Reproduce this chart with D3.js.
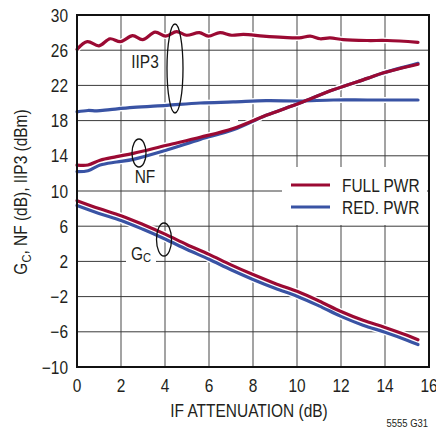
<!DOCTYPE html>
<html><head><meta charset="utf-8">
<script src="https://cdn.jsdelivr.net/npm/d3@7"></script>
<style>
html,body{margin:0;padding:0;background:#fff;}
svg text{font-family:"Liberation Sans",Arial,sans-serif;fill:#231f20;}
</style></head>
<body><svg id="c" width="436" height="434"></svg>
<script>
// ---- data ----
const xTicks = [0,2,4,6,8,10,12,14,16];
const yTicks = [-10,-6,-2,2,6,10,14,18,22,26,30];

const iip3X    = [0,0.47,1.0,1.5,1.98,2.53,2.98,3.55,4.03,4.53,4.98,5.56,5.97,6.5,7.03,7.56,8.47,9.38,10.1,10.6,11.05,11.5,12.1,13.2,14.1,15.5];
const iip3Full = [26.1,26.97,26.5,27.3,26.97,27.65,27.2,28.05,27.6,28.1,27.7,28.0,27.6,28.0,27.7,27.8,27.6,27.45,27.4,27.6,27.3,27.4,27.2,27.1,27.1,26.9];
const iip3RedX = [0,0.5,0.9,1.5,2.56,4.08,5.6,7.1,8.6,10.1,11.65,13.2,15.5];
const iip3Red  = [19.0,19.15,19.1,19.25,19.5,19.74,20.0,20.12,20.26,20.23,20.34,20.34,20.34];

const nfX    = [0,0.5,1.05,1.8,2.56,4.08,5.6,7.1,8.6,10.1,11.65,13.2,13.9,15.5];
const nfFull = [12.95,12.95,13.5,13.9,14.28,15.2,16.1,17.1,18.6,19.97,21.5,22.8,23.4,24.4];
const nfRed  = [12.2,12.3,12.95,13.3,13.6,14.66,15.87,16.95,18.6,19.97,21.5,22.8,23.4,24.5];

const gcX    = [0,1,2,3,4,5,6,7,8,9,10,11,12,13,14,15,15.5];
const gcFull = [8.9,8.0,7.2,6.2,5.1,3.9,2.8,1.6,0.5,-0.5,-1.4,-2.5,-3.7,-4.7,-5.5,-6.4,-6.9];
const gcRed  = [8.35,7.45,6.65,5.65,4.55,3.35,2.25,1.05,-0.05,-1.05,-1.95,-3.05,-4.25,-5.25,-6.05,-6.95,-7.45];

const legendLabels = ["FULL PWR","RED. PWR"];
const colors = {full:"#9b0a33", red:"#3953a4"};

// ---- layout ----
const L=77, T=15, W=352, H=352;
const svg = d3.select("#c");
const x = d3.scaleLinear().domain([0,16]).range([L,L+W]);
const y = d3.scaleLinear().domain([-10,30]).range([T+H,T]);
const fs = 18, SX = 0.86;

function txt(parent, px, py, anchor, size, rot){
  const g = parent.append("g").attr("transform",`translate(${px},${py})${rot?` rotate(${rot})`:""} scale(${SX},1)`);
  return g.append("text").attr("x",0).attr("y",0).attr("text-anchor",anchor).attr("font-size",size);
}

// grid
svg.append("g").selectAll("line").data(xTicks.slice(1,-1)).join("line")
  .attr("x1",d=>x(d)).attr("x2",d=>x(d)).attr("y1",T).attr("y2",T+H)
  .attr("stroke","#8c8c8c").attr("stroke-width",1.6);
svg.append("g").selectAll("line").data(yTicks.slice(1,-1)).join("line")
  .attr("x1",d=> d===14 ? 159 : L).attr("x2",L+W).attr("y1",d=>y(d)).attr("y2",d=>y(d))
  .attr("stroke","#3a3a3a").attr("stroke-width",1);
// small gap in the 18 line
svg.append("rect").attr("x",230).attr("y",y(18)-1.5).attr("width",8).attr("height",3).attr("fill","#fff");

// legend box (white)
svg.append("rect").attr("x",282).attr("y",167).attr("width",145).attr("height",58).attr("fill","#fff");
// Gc label background
svg.append("rect").attr("x",126).attr("y",244).attr("width",30).attr("height",20).attr("fill","#fff");

// curves
const line = d3.line().x(d=>x(d[0])).y(d=>y(d[1])).curve(d3.curveCatmullRom.alpha(0.5));
const series = [
  {xs:iip3RedX, ys:iip3Red, c:colors.red},
  {xs:iip3X, ys:iip3Full, c:colors.full},
  {xs:nfX, ys:nfRed, c:colors.red},
  {xs:nfX, ys:nfFull, c:colors.full},
  {xs:gcX, ys:gcRed, c:colors.red},
  {xs:gcX, ys:gcFull, c:colors.full}
];
series.forEach(s=>{
  const pts = s.xs.map((v,i)=>[v,s.ys[i]]);
  svg.append("path").attr("d",line(pts)).attr("fill","none").attr("stroke","#fff").attr("stroke-width",6).attr("stroke-linejoin","round");
});
series.forEach(s=>{
  const pts = s.xs.map((v,i)=>[v,s.ys[i]]);
  svg.append("path").attr("d",line(pts)).attr("fill","none").attr("stroke",s.c).attr("stroke-width",3.2).attr("stroke-linejoin","round").attr("stroke-linecap","round");
});

// frame
svg.append("rect").attr("x",L).attr("y",T).attr("width",W).attr("height",H)
  .attr("fill","none").attr("stroke","#111").attr("stroke-width",2);

// tick labels
const fmt = d=> d<0 ? "\u2212"+Math.abs(d) : String(d);
yTicks.forEach(d=>txt(svg, L-9, y(d)+6.5, "end", fs).text(fmt(d)));
xTicks.forEach(d=>txt(svg, x(d), T+H+25, "middle", fs).text(fmt(d)));

// axis titles
txt(svg, 249, 417, "middle", fs).text("IF ATTENUATION (dB)");
const yl = txt(svg, 27, 192, "middle", fs, -90);
yl.append("tspan").text("G");
yl.append("tspan").attr("font-size",13).attr("dy",4).text("C");
yl.append("tspan").attr("dy",-4).text(", NF (dB), IIP3 (dBm)");

// annotations
txt(svg, 145, 68, "middle", fs).text("IIP3");
txt(svg, 145, 183, "middle", fs).text("NF");
const gl = txt(svg, 131, 260, "start", fs);
gl.append("tspan").text("G");
gl.append("tspan").attr("font-size",13).attr("dy",2).text("C");

const ell = [[175,68.5,8,44.5],[139,153,7,14],[164,239.5,7.5,16.5]];
svg.append("g").selectAll("ellipse").data(ell).join("ellipse")
  .attr("cx",d=>d[0]).attr("cy",d=>d[1]).attr("rx",d=>d[2]).attr("ry",d=>d[3])
  .attr("fill","none").attr("stroke","#111").attr("stroke-width",1.3);

// legend
const lg = svg.append("g");
[colors.full, colors.red].forEach((c,i)=>{
  lg.append("line").attr("x1",291).attr("x2",330).attr("y1",185+i*22).attr("y2",185+i*22).attr("stroke",c).attr("stroke-width",3.2);
  txt(lg, 342, 191.5+i*22, "start", fs).text(legendLabels[i]);
});

txt(svg, 428, 427, "end", 11).text("5555 G31");
</script></body></html>
